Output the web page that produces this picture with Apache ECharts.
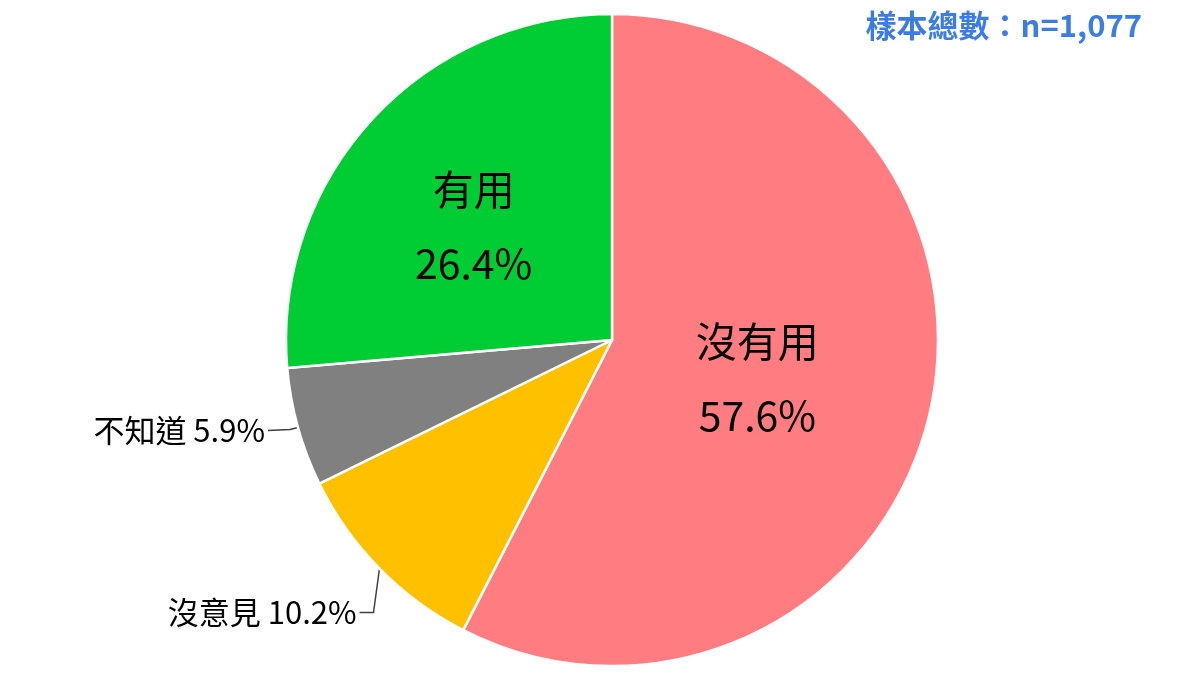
<!DOCTYPE html>
<html>
<head>
<meta charset="utf-8">
<script src="https://cdn.jsdelivr.net/npm/echarts@6/dist/echarts.min.js"></script>
<style>
html,body{margin:0;padding:0;background:#fff;}
#chart{width:1200px;height:675px;}
</style>
</head>
<body>
<div id="chart"></div>
<script>
const categories = ['沒有用', '沒意見', '不知道', '有用'];
const values = [57.6, 10.2, 5.9, 26.4];
const sliceColors = ['#FF7C80', '#FFC000', '#808080', '#00CC33'];
const insideSlices = ['沒有用', '有用'];
const sampleText = '樣本總數：n=1,077';

const FONT = '"Noto Sans CJK TC", "Noto Sans", sans-serif';

const data = categories.map((name, i) => {
  const inside = insideSlices.includes(name);
  return {
    name: name,
    value: values[i],
    itemStyle: { color: sliceColors[i] },
    label: inside ? {
      show: true,
      position: 'inside',
      formatter: '{b}\n{c}%',
      fontSize: 41,
      lineHeight: 74,
      color: '#000',
      fontFamily: FONT
    } : {
      show: true,
      position: 'outside',
      formatter: '{b} {c}%',
      fontSize: 31,
      color: '#000',
      fontFamily: FONT
    },
    labelLine: inside ? { show: false } : {
      show: true,
      length: 8,
      length2: 20,
      lineStyle: { color: '#404040', width: 1.5 }
    }
  };
});

const chart = echarts.init(document.getElementById('chart'));
chart.setOption({
  backgroundColor: '#fff',
  animation: false,
  title: {
    text: sampleText,
    right: 53,
    top: 5,
    textStyle: { color: '#3B7DE3', fontSize: 31, fontWeight: 'bold', fontFamily: FONT }
  },
  series: [{
    type: 'pie',
    center: [612, 340],
    radius: [0, 326],
    startAngle: 90,
    clockwise: true,
    avoidLabelOverlap: false,
    itemStyle: { borderColor: '#fff', borderWidth: 2.5 },
    data: data,
    labelLayout: function (params) {
      const name = categories[params.dataIndex];
      if (insideSlices.includes(name)) return { dx: -16, dy: -1 };
      const pts = params.labelLinePoints;
      if (!pts) return {};
      const p0 = pts[0];
      let p1, p2;
      if (name === '沒意見') {
        p1 = [p0[0] - 6, p0[1] + 44];
        p2 = [p1[0] - 14, p1[1]];
      } else {
        p1 = [p0[0] - 8, p0[1] + 2];
        p2 = [p0[0] - 30, p0[1] + 3];
      }
      return {
        x: p2[0] - 3,
        y: p2[1],
        align: 'right',
        verticalAlign: 'middle',
        labelLinePoints: [p0, p1, p2]
      };
    }
  }]
});
</script>
</body>
</html>
